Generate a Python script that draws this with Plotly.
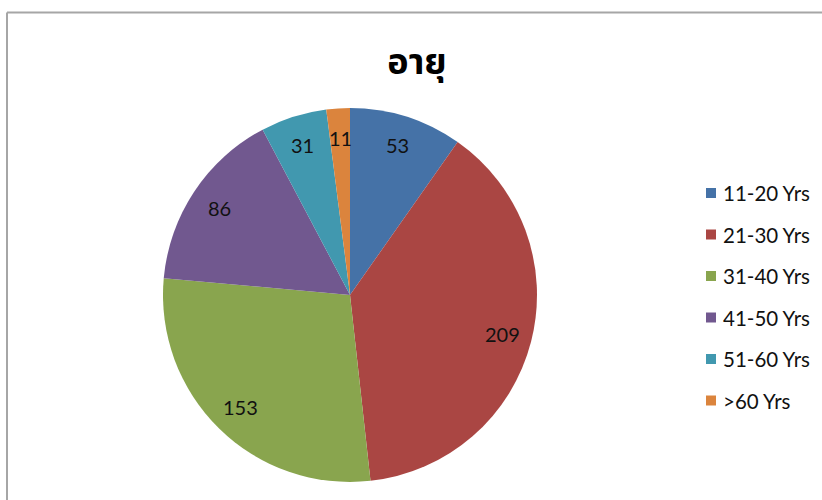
import math
import plotly.graph_objects as go

# Age distribution
categories = ["11-20 Yrs", "21-30 Yrs", "31-40 Yrs", "41-50 Yrs", "51-60 Yrs", ">60 Yrs"]
counts = [53, 209, 153, 86, 31, 11]
colors = ["#4572A7", "#AA4643", "#89A54E", "#71588F", "#4198AF", "#DB843D"]
title_text = "อายุ"

W, H = 822, 500
FONT = "Lato, 'Open Sans', sans-serif"

# pie geometry in pixels
cx, cy, R = 350, 295, 187


def px(x):
    return x / W


def py(y):
    return 1 - y / H


fig = go.Figure()
fig.add_trace(go.Pie(
    labels=categories,
    values=counts,
    sort=False,
    direction="clockwise",
    rotation=0,
    marker=dict(colors=colors, line=dict(width=0)),
    textinfo="none",
    showlegend=False,
    hoverinfo="label+value",
    domain=dict(x=[px(cx - R), px(cx + R)], y=[py(cy + R), py(cy - R)]),
))

annotations = []
shapes = []

# value labels at the middle angle of each slice
total = sum(counts)
cum = 0
for v in counts:
    mid = (cum + v / 2) / total * 2 * math.pi
    cum += v
    r = R * 0.84
    lx = cx + r * math.sin(mid)
    ly = cy - r * math.cos(mid)
    annotations.append(dict(
        x=px(lx), y=py(ly), xref="paper", yref="paper",
        text=str(v), showarrow=False,
        font=dict(family=FONT, size=20, color="#111111"),
        xanchor="center", yanchor="middle",
    ))

# legend: colour squares with labels
for i, (name, col) in enumerate(zip(categories, colors)):
    yc = 193 + 41.5 * i
    shapes.append(dict(
        type="rect", xref="paper", yref="paper",
        x0=px(706), x1=px(716), y0=py(yc + 5), y1=py(yc - 5),
        fillcolor=col, line=dict(width=0),
    ))
    annotations.append(dict(
        x=px(721), y=py(yc), xref="paper", yref="paper",
        text=name, showarrow=False,
        font=dict(family=FONT, size=20.5, color="#111111"),
        xanchor="left", yanchor="middle",
    ))

# chart frame
frame = "#a6a6a6"
shapes.append(dict(type="line", xref="paper", yref="paper",
                   x0=px(7), x1=px(W), y0=py(12.5), y1=py(12.5),
                   line=dict(color=frame, width=2)))
shapes.append(dict(type="line", xref="paper", yref="paper",
                   x0=px(7), x1=px(7), y0=py(12.5), y1=py(H),
                   line=dict(color=frame, width=2)))

fig.update_layout(
    width=W, height=H,
    margin=dict(l=0, r=0, t=0, b=0),
    paper_bgcolor="white",
    plot_bgcolor="white",
    title=dict(
        text="<b>" + title_text + "</b>",
        x=px(417), xanchor="center",
        y=py(61), yanchor="middle",
        font=dict(family="'Noto Sans Thai', 'Noto Sans', sans-serif", size=36, color="#000000"),
    ),
    annotations=annotations,
    shapes=shapes,
)

fig.write_html("out.html")
